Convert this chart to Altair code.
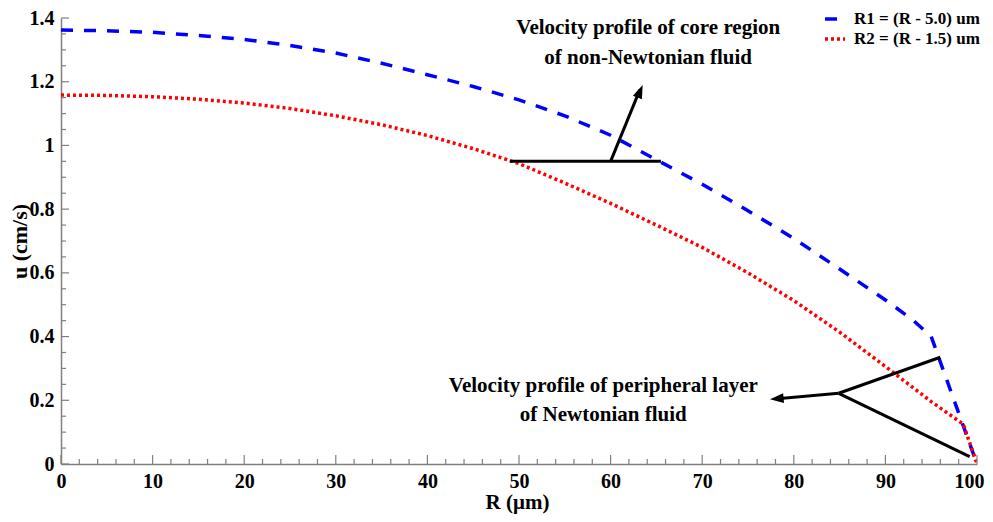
import altair as alt
import pandas as pd

# ---- data ----
r1_x = [0, 5, 10, 15, 20, 25, 30, 35, 40, 45, 50, 55, 60, 65, 70, 75, 80, 85, 90, 93, 95, 100]
r1_u = [1.362, 1.360, 1.355, 1.345, 1.333, 1.314, 1.290, 1.258, 1.222, 1.185, 1.143, 1.093,
        1.032, 0.955, 0.878, 0.795, 0.708, 0.612, 0.515, 0.452, 0.400, 0.0]
r2_x = [0, 5, 10, 15, 20, 25, 30, 35, 40, 45, 50, 55, 60, 65, 70, 75, 80, 85, 90, 95, 98.5, 100]
r2_u = [1.158, 1.157, 1.153, 1.145, 1.133, 1.116, 1.093, 1.065, 1.031, 0.990, 0.943, 0.882,
        0.818, 0.750, 0.680, 0.600, 0.513, 0.414, 0.306, 0.196, 0.125, 0.0]
series_names = ["R1 = (R - 5.0) um", "R2 = (R - 1.5) um"]
series_colors = ["#0000FF", "#FF0000"]

x_major = list(range(0, 101, 10))
x_minor = [v for v in range(0, 101, 2) if v % 10 != 0]
y_major = [round(0.2 * i, 2) for i in range(8)]
y_minor = [round(0.05 * i, 2) for i in range(29) if i % 4 != 0]

# annotation segments (x, y, x2, y2)
seg_x = [49.0, 60.0, 84.9, 84.9, 84.9]
seg_y = [0.95, 0.95, 0.222, 0.222, 0.222]
seg_x2 = [65.5, 63.2, 96.0, 99.2, 78.2]
seg_y2 = [0.95, 1.175, 0.335, 0.023, 0.205]
arrow_x = [63.5, 77.4]
arrow_y = [1.19, 0.203]
arrow_angle = [22.6, 265]
note_text = ["Velocity profile of core region", "of non-Newtonian fluid",
             "Velocity profile of peripheral layer", "of Newtonian fluid"]
note_x = [64.1, 64.1, 59.2, 59.2]
note_y = [1.369, 1.275, 0.246, 0.153]

FONT = "Liberation Serif"
W, H = 916, 446

lines_df = pd.DataFrame(
    {"R": r1_x + r2_x, "u": r1_u + r2_u,
     "series": [series_names[0]] * len(r1_x) + [series_names[1]] * len(r2_x)}
)
seg_df = pd.DataFrame({"x": seg_x, "y": seg_y, "x2": seg_x2, "y2": seg_y2})
arrow_df = pd.DataFrame({"x": arrow_x, "y": arrow_y, "a": arrow_angle})
note_df = pd.DataFrame({"t": note_text, "x": note_x, "y": note_y})

xscale = alt.Scale(domain=[0, 100], nice=False, zero=False)
yscale = alt.Scale(domain=[0, 1.4], nice=False, zero=False)

x_axis = alt.Axis(values=x_major, ticks=False, tickSize=0, grid=False, domainColor="#808080",
                  domainWidth=1.5, labelFont=FONT, labelFontWeight="bold", labelFontSize=20,
                  labelColor="black", labelPadding=7, title="R (μm)", titleFont=FONT,
                  titleFontSize=21, titleFontWeight="bold", titleColor="black",
                  titleX=456, titleY=38, titleBaseline="middle", titleAlign="center",
                  labelFlush=False,
                  labelAlign={"condition": {"test": "datum.value == 100", "value": "right"},
                              "value": "center"},
                  labelOffset={"condition": {"test": "datum.value == 100", "value": 7},
                               "value": 0})
y_axis = alt.Axis(values=y_major, ticks=False, tickSize=0, grid=False, domainColor="#808080",
                  domainWidth=1.5, labelFont=FONT, labelFontWeight="bold", labelFontSize=20,
                  labelColor="black", labelPadding=7, format=".1~f", title="u (cm/s)",
                  titleFont=FONT, titleFontSize=22, titleFontWeight="bold", titleColor="black",
                  titleX=-42, titleY=H / 2, titleAngle=270, titleBaseline="middle",
                  titleAlign="center", labelFlush=False)

legend_cfg = dict(title=None, orient="none", legendX=762, legendY=-11,
                  labelFont=FONT, labelFontSize=17, labelFontWeight="bold",
                  labelColor="black", symbolType="stroke", symbolSize=400,
                  symbolStrokeWidth=3.5, rowPadding=0, labelOffset=7)

lines = alt.Chart(lines_df).mark_line(strokeWidth=3.5, clip=True).encode(
    x=alt.X("R:Q", scale=xscale, axis=x_axis),
    y=alt.Y("u:Q", scale=yscale, axis=y_axis),
    color=alt.Color("series:N", scale=alt.Scale(domain=series_names, range=series_colors),
                    legend=alt.Legend(**legend_cfg)),
    strokeDash=alt.StrokeDash("series:N",
                              scale=alt.Scale(domain=series_names, range=[[12, 11], [3, 3]]),
                              legend=alt.Legend(**legend_cfg)),
)

# ticks drawn as rules from the axis lines inward
xt_major = alt.Chart(pd.DataFrame({"v": x_major})).mark_rule(color="#808080", strokeWidth=1.2).encode(
    x=alt.X("v:Q", scale=xscale), y=alt.value(H), y2=alt.value(H - 9))
xt_minor = alt.Chart(pd.DataFrame({"v": x_minor})).mark_rule(color="#808080", strokeWidth=1.2).encode(
    x=alt.X("v:Q", scale=xscale), y=alt.value(H), y2=alt.value(H - 5))
yt_major = alt.Chart(pd.DataFrame({"v": y_major})).mark_rule(color="#808080", strokeWidth=1.2).encode(
    y=alt.Y("v:Q", scale=yscale), x=alt.value(0), x2=alt.value(8))
yt_minor = alt.Chart(pd.DataFrame({"v": y_minor})).mark_rule(color="#808080", strokeWidth=1.2).encode(
    y=alt.Y("v:Q", scale=yscale), x=alt.value(0), x2=alt.value(5))

segs = alt.Chart(seg_df).mark_rule(color="black", strokeWidth=3).encode(
    x=alt.X("x:Q", scale=xscale), y=alt.Y("y:Q", scale=yscale),
    x2="x2:Q", y2="y2:Q")

arrows = alt.Chart(arrow_df).mark_point(
    shape="M0,0L0.5,1.4L-0.5,1.4Z", filled=True, color="black", opacity=1, size=380,
    strokeWidth=0
).encode(
    x=alt.X("x:Q", scale=xscale), y=alt.Y("y:Q", scale=yscale),
    angle=alt.Angle("a:Q", scale=None))

notes = alt.Chart(note_df).mark_text(
    font=FONT, fontSize=21, fontWeight="bold", color="black", align="center", baseline="middle"
).encode(x=alt.X("x:Q", scale=xscale), y=alt.Y("y:Q", scale=yscale), text="t:N")

chart = alt.layer(
    lines, xt_major, xt_minor, yt_major, yt_minor, segs, arrows, notes
).properties(
    width=W, height=H,
    autosize=alt.AutoSizeParams(type="none"),
    padding={"left": 53, "top": 10, "right": 8, "bottom": 50},
).configure_view(stroke=None)

chart.save("out.html", embed_options={"renderer": "svg", "actions": False})
